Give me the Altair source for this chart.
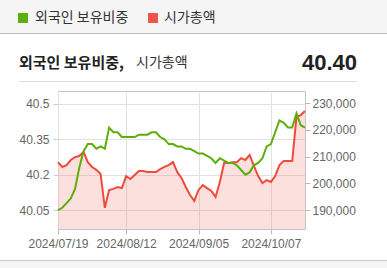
import altair as alt
import pandas as pd

dates = [
    "2024/07/19", "2024/07/22", "2024/07/23", "2024/07/24", "2024/07/25", "2024/07/26",
    "2024/07/29", "2024/07/30", "2024/07/31", "2024/08/01", "2024/08/02",
    "2024/08/05", "2024/08/06", "2024/08/07", "2024/08/08", "2024/08/09",
    "2024/08/12", "2024/08/13", "2024/08/14", "2024/08/16",
    "2024/08/19", "2024/08/20", "2024/08/21", "2024/08/22", "2024/08/23",
    "2024/08/26", "2024/08/27", "2024/08/28", "2024/08/29", "2024/08/30",
    "2024/09/02", "2024/09/03", "2024/09/04", "2024/09/05", "2024/09/06",
    "2024/09/09", "2024/09/10", "2024/09/11", "2024/09/12", "2024/09/13",
    "2024/09/19", "2024/09/20",
    "2024/09/23", "2024/09/24", "2024/09/25", "2024/09/26", "2024/09/27",
    "2024/09/30", "2024/10/02", "2024/10/04", "2024/10/07",
    "2024/10/08", "2024/10/10", "2024/10/11", "2024/10/14", "2024/10/15",
    "2024/10/16", "2024/10/17", "2024/10/18",
]

foreign_ratio = [
    40.05, 40.06, 40.08, 40.10, 40.14, 40.23, 40.30, 40.33, 40.33, 40.31,
    40.32, 40.31, 40.40, 40.38, 40.38, 40.36, 40.36, 40.36, 40.36, 40.37,
    40.37, 40.37, 40.38, 40.38, 40.36, 40.35, 40.33, 40.33, 40.32, 40.32,
    40.31, 40.31, 40.30, 40.29, 40.29, 40.28, 40.27, 40.25, 40.27, 40.26,
    40.25, 40.25, 40.24, 40.22, 40.20, 40.21, 40.24, 40.25, 40.27, 40.32,
    40.33, 40.38, 40.43, 40.42, 40.40, 40.40, 40.46, 40.41, 40.40,
]

market_cap = [
    207900, 206100, 206800, 208700, 209800, 210200, 211700, 207900, 206100, 205000,
    203500, 190800, 197500, 197900, 198600, 198200, 202700, 201600, 203100, 204600,
    204600, 204200, 204200, 204200, 205300, 206100, 206800, 207900, 204200, 202000,
    198600, 195600, 193400, 197500, 199300, 198200, 197100, 194900, 200500, 207600,
    207600, 207900, 207900, 209400, 208700, 210600, 206500, 202700, 200100, 201200,
    200500, 202700, 206800, 208300, 208300, 208300, 224800, 225500, 227000,
]

tick_dates = ["2024/07/19", "2024/08/12", "2024/09/05", "2024/10/07"]
left_ticks = [40.05, 40.2, 40.35, 40.5]
right_ticks = [190000, 200000, 210000, 220000, 230000]

df = pd.DataFrame({"date": dates, "ratio": foreign_ratio, "cap": market_cap})

GREEN = "#5cae0a"
RED = "#f04a3c"
FONT = "Liberation Sans"
KFONT = "Noto Sans CJK KR"

W, H = 247, 138
L, T = 58, 91

xenc = alt.X(
    "date:O",
    sort=None,
    scale=alt.Scale(type="point", padding=0),
    axis=alt.Axis(
        values=tick_dates, labelAngle=0, title=None, grid=True, gridColor="#e2e2e2",
        tickColor="#bbbbbb", tickSize=5, domain=False, labelColor="#666666",
        labelFont=FONT, labelFontSize=12, labelPadding=4,
    ),
)

base = alt.Chart(df)

green = base.mark_line(color=GREEN, strokeWidth=2).encode(
    x=xenc,
    y=alt.Y(
        "ratio:Q",
        scale=alt.Scale(domain=[39.97, 40.555], nice=False, zero=False),
        axis=alt.Axis(
            orient="left", values=left_ticks, title=None, grid=True, gridColor="#e2e2e2",
            tickColor="#cccccc", tickSize=5, domain=False, labelColor="#666666",
            labelFont=FONT, labelFontSize=12, labelPadding=4, format=".2~f",
        ),
    ),
)

ycap = alt.Y(
    "cap:Q",
    scale=alt.Scale(domain=[182900, 234500], nice=False, zero=False),
    axis=alt.Axis(
        orient="right", values=right_ticks, title=None, grid=False,
        tickColor="#bbbbbb", tickSize=5, domain=False, labelColor="#666666",
        labelFont=FONT, labelFontSize=12, labelPadding=2, format=",d",
    ),
)

red_area = base.mark_area(color=RED, opacity=0.17, clip=True).encode(x=xenc, y=ycap)
red_line = base.mark_line(color=RED, strokeWidth=2).encode(x=xenc, y=ycap)
red = alt.layer(red_area, red_line)

# decorations (page chrome)
band = alt.Chart(df).mark_rect(color="#f5f5f5").encode(
    x=alt.value(-L), x2=alt.value(387 - L), y=alt.value(-T), y2=alt.value(33 - T)
)
band_line = alt.Chart(df).mark_rule(color="#b8b8b8", strokeWidth=1).encode(
    x=alt.value(-L), x2=alt.value(387 - L), y=alt.value(33.5 - T)
)
bottom_band = alt.Chart(df).mark_rect(color="#f5f5f5").encode(
    x=alt.value(-L), x2=alt.value(387 - L), y=alt.value(260 - T), y2=alt.value(268 - T)
)
bottom_line = alt.Chart(df).mark_rule(color="#c8c8c8", strokeWidth=1).encode(
    x=alt.value(-L), x2=alt.value(387 - L), y=alt.value(260.5 - T)
)
underline = alt.Chart(df).mark_rule(color="#dddddd", strokeWidth=1).encode(
    x=alt.value(19 - L), x2=alt.value(357 - L), y=alt.value(81.5 - T)
)
sq_green = alt.Chart(df).mark_rect(color=GREEN).encode(
    x=alt.value(18.5 - L), x2=alt.value(27.5 - L), y=alt.value(13.5 - T), y2=alt.value(22.5 - T)
)
sq_red = alt.Chart(df).mark_rect(color="#f2544a").encode(
    x=alt.value(148.5 - L), x2=alt.value(157.5 - L), y=alt.value(13.5 - T), y2=alt.value(22.5 - T)
)

def txt(s, x, y, size, weight="normal", color="#333333", font=KFONT, align="left"):
    return alt.Chart(pd.DataFrame({"t": [s]})).mark_text(
        align=align, baseline="middle", font=font, fontSize=size, fontWeight=weight, color=color
    ).encode(text="t:N", x=alt.value(x - L), y=alt.value(y - T))

t1 = txt("외국인 보유비중", 35, 18, 14)
t2 = txt("시가총액", 164, 18, 14)
t3 = txt("외국인 보유비중,", 19, 63, 15, weight="bold", color="#222222")
t4 = txt("시가총액", 136, 63, 14)
t5 = txt("40.40", 357, 63, 22, weight="bold", color="#222222", font=FONT, align="right")

deco = alt.layer(band, band_line, bottom_band, bottom_line, underline, sq_green, sq_red, t1, t2, t3, t4, t5)

chart = alt.layer(deco, red, green).resolve_scale(y="independent").properties(
    width=W, height=H,
    autosize=alt.AutoSizeParams(type="none"),
    padding={"left": L, "top": T, "right": 387 - L - W, "bottom": 268 - T - H},
    background="white",
).configure_view(stroke="#c4c4c4", strokeWidth=1)

chart.save("out.html", embed_options={"renderer": "svg", "actions": False})
